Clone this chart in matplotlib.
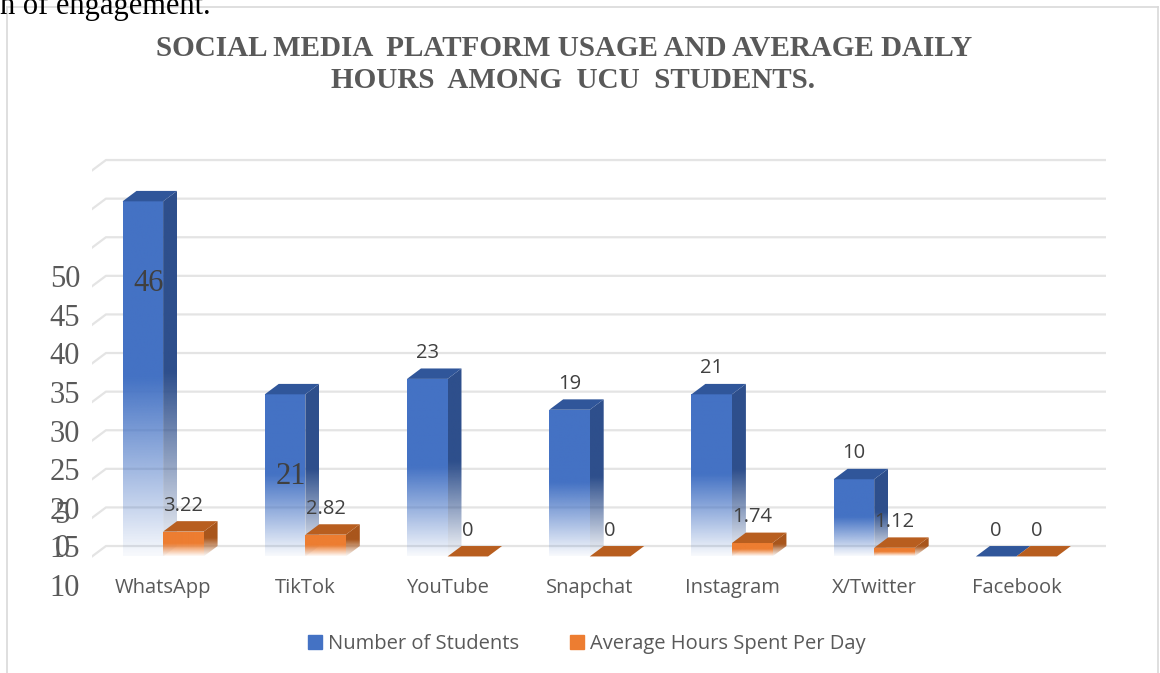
import matplotlib.pyplot as plt
import numpy as np
from matplotlib.colors import to_rgb
from matplotlib.patches import Polygon, Patch
from matplotlib.lines import Line2D
from matplotlib.transforms import blended_transform_factory

categories = ['WhatsApp', 'TikTok', 'YouTube', 'Snapchat', 'Instagram', 'X/Twitter', 'Facebook']
students = [46, 21, 23, 19, 21, 10, 0]
hours = [3.22, 2.82, 0, 0, 1.74, 1.12, 0]
series_names = ['Number of Students', 'Average Hours Spent Per Day']
grid_values = list(range(0, 55, 5))
odd_tick_labels = ['50', '45', '40', '35', '30', '25', '20', '15', '10']

W, H = 1160, 673
fig = plt.figure(figsize=(W / 100, H / 100), dpi=100)
ax = fig.add_axes([92 / W, (H - 560) / H, (1106 - 92) / W, (560 - 150) / H])
ax.set_xlim(-0.5, 6.63)
ax.set_ylim(-1.81, 51.3)
ax.set_autoscale_on(False)
for s in ax.spines.values():
    s.set_visible(False)
ax.set_yticks([])

DX, DY = 0.098, 1.35   # 3d depth offset (data units)
BW = 0.285             # bar width
GRAY = '#595959'

# back wall gridlines with slanted floor edge
for v in grid_values:
    ax.plot([-0.5, -0.5 + DX, 6.63], [v - DY, v, v], color='#e4e4e4', lw=1.6, zorder=0)


def gradient(color, n=200):
    img = np.zeros((n, 2, 4))
    img[..., :3] = to_rgb(color)
    t = np.linspace(0, 1, n)[:, None]
    img[..., 3] = np.clip(0.04 + t / 0.5 * 0.96, 0, 1)
    return img


def bar3d(xl, v, front, side, top, z):
    xr = xl + BW
    if v > 0:
        fr = Polygon([(xl, -DY), (xr, -DY), (xr, v - DY), (xl, v - DY)], closed=True,
                     facecolor='none', edgecolor='none')
        ax.add_patch(fr)
        im = ax.imshow(gradient(front), extent=[xl, xr, -DY, v - DY], origin='lower',
                       aspect='auto', interpolation='bilinear', zorder=z)
        im.set_clip_path(fr)
        sd = Polygon([(xr, -DY), (xr + DX, 0), (xr + DX, v), (xr, v - DY)], closed=True,
                     facecolor='none', edgecolor='none')
        ax.add_patch(sd)
        im2 = ax.imshow(gradient(side), extent=[xr, xr + DX, -DY, v], origin='lower',
                        aspect='auto', interpolation='bilinear', zorder=z + 0.2)
        im2.set_clip_path(sd)
    ax.add_patch(Polygon([(xl, v - DY), (xr, v - DY), (xr + DX, v), (xl + DX, v)],
                         closed=True, facecolor=top, edgecolor='none', zorder=z + 0.3))


x = np.arange(len(categories))
for i in range(len(categories)):
    bar3d(x[i] - BW, students[i], '#4472C4', '#2E4F8C', '#30569A', 2 + i)
    bar3d(x[i], hours[i], '#ED7D31', '#A9561C', '#B85E1F', 2.5 + i)

# data labels
for i in range(len(categories)):
    if i < 2:
        # misplaced serif labels as in the source image
        ax.text(x[i] - BW / 2 + 0.04, students[i] - 12, str(students[i]), ha='center', va='center',
                fontsize=22, family='Liberation Serif', color='#404040', zorder=2.1 + i)
    else:
        ax.text(x[i] - BW / 2, students[i] + 2.0, str(students[i]), ha='center', va='center',
                fontsize=14.5, family='Open Sans', color='#404040', zorder=20)
    ax.text(x[i] + BW / 2, hours[i] + 2.0, f'{hours[i]:g}', ha='center', va='center',
            fontsize=14.5, family='Open Sans', color='#404040', zorder=20)

ax.set_xticks(x)
ax.set_xticklabels(categories, fontsize=14.5, family='Open Sans', color=GRAY)
ax.tick_params(axis='x', length=0, pad=13)

# garbled serif y labels
tr = blended_transform_factory(fig.transFigure, ax.transData)
for lab in odd_tick_labels:
    ax.text(80 / W, int(lab) - 15.5, lab, transform=tr, ha='right', va='center',
            fontsize=22, family='Liberation Serif', color=GRAY, clip_on=False)
for lab, yv in [('5', 4.0), ('0', -0.3)]:
    ax.text(62 / W, yv, lab, transform=tr, ha='center', va='center',
            fontsize=22, family='Liberation Serif', color=GRAY, clip_on=False)

# title
fig.text(564 / W, 1 - 49 / H, 'SOCIAL MEDIA  PLATFORM USAGE AND AVERAGE DAILY', ha='center',
         va='center', fontsize=21, family='Liberation Serif', weight='bold', color=GRAY)
fig.text(573 / W, 1 - 81 / H, 'HOURS  AMONG  UCU  STUDENTS.', ha='center',
         va='center', fontsize=21, family='Liberation Serif', weight='bold', color=GRAY)

# legend
handles = [Patch(color='#4472C4'), Patch(color='#ED7D31')]
fig.legend(handles, series_names, loc='center', bbox_to_anchor=(587 / W, 1 - 644 / H), ncol=2,
           frameon=False, handlelength=0.7, handleheight=0.7, handletextpad=0.3,
           columnspacing=2.5, prop={'family': 'Open Sans', 'size': 14.5}, labelcolor=GRAY)

# chart border and text from the page above
bc = '#d9d9d9'
fig.add_artist(Line2D([7 / W, 7 / W], [0, 1 - 7 / H], color=bc, lw=1.2))
fig.add_artist(Line2D([7 / W, 1158 / W], [1 - 7 / H, 1 - 7 / H], color=bc, lw=1.2))
fig.add_artist(Line2D([1158 / W, 1158 / W], [0, 1 - 7 / H], color=bc, lw=1.2))
fig.text(0, 1 - 14 / H, 'n of engagement.', ha='left', va='baseline', fontsize=22,
         family='Liberation Serif', color='black')

fig.savefig('out.png', dpi=100, facecolor='white')
